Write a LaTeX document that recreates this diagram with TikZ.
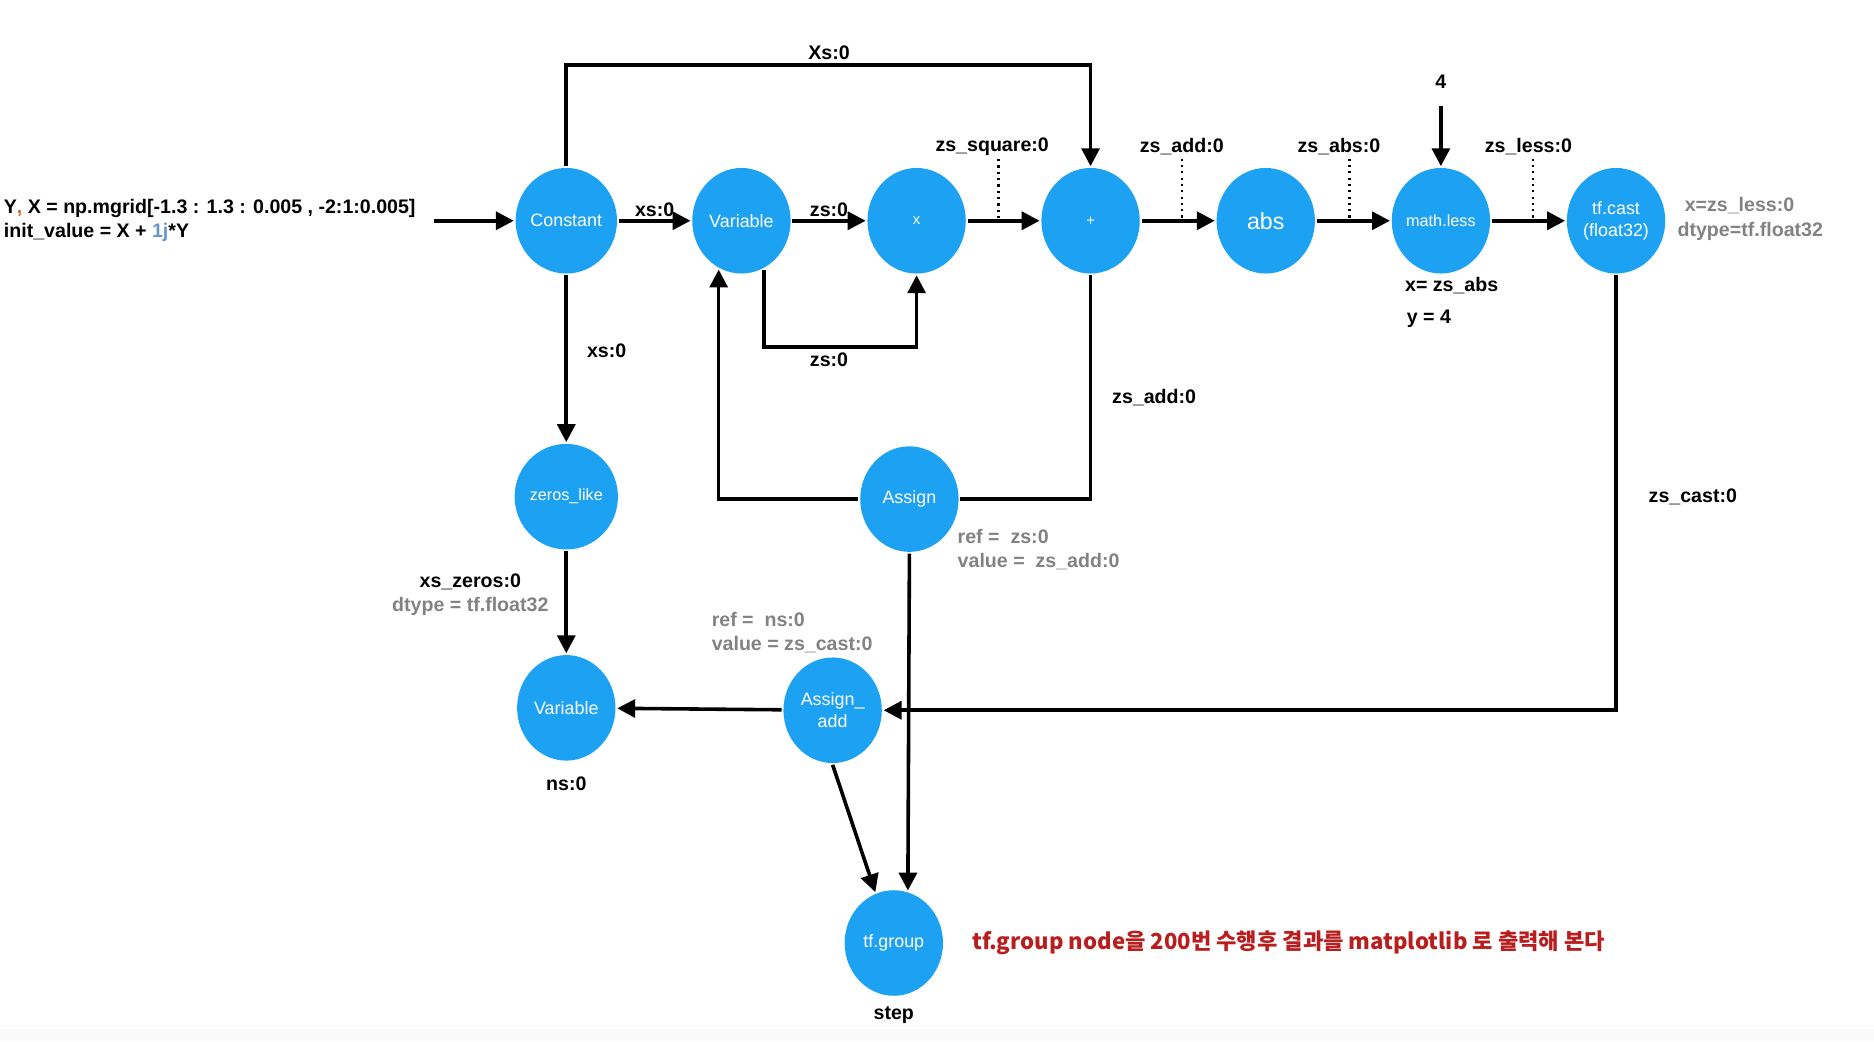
\documentclass[tikz,border=0pt]{standalone}
\usepackage{fontspec}
\setmainfont{Liberation Sans}
\newfontfamily\krfont{Noto Sans CJK KR}
\usetikzlibrary{arrows.meta,shapes.geometric}
\definecolor{tfblue}{RGB}{29,161,242}
\definecolor{notegray}{RGB}{130,130,130}
\definecolor{notered}{RGB}{184,30,30}
\definecolor{codeorange}{RGB}{204,110,50}
\definecolor{codeblue}{RGB}{105,150,200}

\begin{document}
\begin{tikzpicture}[x=0.02cm,y=-0.02cm,line width=1.7pt,>={Triangle[length=8.5pt,width=8.5pt]},
    op/.style={ellipse,fill=tfblue,text=white,minimum width=1.64cm,minimum height=1.76cm,inner sep=0pt,align=center,font=\fontsize{8.5}{10.5}\selectfont},
    lbl/.style={font=\bfseries\fontsize{9.3}{11.3}\selectfont,inner sep=1pt,align=left},
    note/.style={lbl,text=notegray},
    dot/.style={dotted,line width=1pt}]
    \useasboundingbox(0,0)rectangle(1562,868);
    \fill[black!2](0,858)rectangle(1562,868);

    % main row
    \node[op](const)at(472,184){Constant};
    \node[op](var1)at(618,184){Variable};
    \node[op,font=\fontsize{7}{8}\selectfont](mult)at(764,184){x};
    \node[op,font=\fontsize{7}{8}\selectfont](plus)at(909,184){+};
    \node[op,font=\fontsize{11}{13}\selectfont](abs)at(1055,184){abs};
    \node[op,font=\fontsize{7.7}{9}\selectfont](mless)at(1201,184){math.less};
    \node[op](cast)at(1347,184){tf.cast\\(float32)};

    % lower part
    \node[op,font=\fontsize{7.7}{9}\selectfont](zeros)at(472,414){zeros\_like};
    \node[op](assign)at(758,416){Assign};
    \node[op](var2)at(472,590){Variable};
    \node[op](asgadd)at(694,592){Assign\_\\add};
    \node[op](group)at(745,786){tf.group};

    \coordinate(inp)at(362,184);
    \coordinate(xsbend)at(690,54);
    \coordinate(zsbend)at(700,289);
    \coordinate(fourin)at(1201,88);

    \node[lbl,anchor=west](code)at(0,184){Y{\color{codeorange},} X = np.mgrid[-1.3 : 1.3 : 0.005 , -2:1:0.005]\\init\_value = X + {\color{codeblue}1j}*Y};

    \draw[->](inp)--(const);
    \draw[->](const)--(var1)node[lbl,midway,above](lxs){xs:0};
    \draw[->](var1)--(mult)node[lbl,midway,above](lzs){zs:0};
    \draw[->](mult)--(plus);
    \draw[->](plus)--(abs);
    \draw[->](abs)--(mless);
    \draw[->](mless)--(cast);

    \draw[->](const.north)|-(xsbend)-|(plus.north);
    \node[lbl](lXs)at(691,44){Xs:0};

    \node[lbl](lsq)at(827,122){zs\_square:0};
    \node[lbl](ladd)at(985,122){zs\_add:0};
    \node[lbl](labs)at(1116,122){zs\_abs:0};
    \node[lbl](lless)at(1274,122){zs\_less:0};
    \draw[dot]([xshift=3pt]lsq.south)--([xshift=3pt]lsq.south|-mult.east);
    \draw[dot](ladd.south)--(ladd.south|-plus.east);
    \draw[dot]([xshift=5pt]labs.south)--([xshift=5pt]labs.south|-abs.east);
    \draw[dot]([xshift=2pt]lless.south)--([xshift=2pt]lless.south|-mless.east);

    \node[lbl](four)at(1201,68){4};
    \draw[->](fourin)--(mless.north);
    \node[lbl](lx)at(1210,238){x= zs\_abs};
    \node[lbl](ly)at(1191,266){y = 4};
    \node[note,anchor=west](lcx)at(1401,171){x=zs\_less:0};
    \node[note,anchor=west](lcd)at(1395,193){dtype=tf.float32};

    \draw[->](const)--(zeros)node[lbl,pos=0.45,right=8pt](lxs2){xs:0};
    \draw[->](var1.-65)|-(zsbend)-|(mult.south);
    \node[lbl](lzs2)at(691,300){zs:0};

    \draw(plus.south)|-(assign.east);
    \node[lbl](ladd2)at(962,331){zs\_add:0};
    \draw[->](assign.west)-|(var1.-115);
    \node[note,anchor=west](aref)at(795,458){ref = \ zs:0\\value = \ zs\_add:0};

    \draw[->](cast.south)|-(asgadd.east);
    \node[lbl](lcast)at(1411,414){zs\_cast:0};

    \draw[->](zeros)--(var2);
    \node[lbl,align=center](lzero)at(392,496){xs\_zeros:0\\\textcolor{notegray}{dtype = tf.float32}};

    \draw[->](asgadd)--(var2);
    \node[note,anchor=west](addref)at(590,527){ref = \ ns:0\\value = zs\_cast:0};
    \node[lbl](lns)at(472,653){ns:0};

    \draw[->](assign.south)--(group.75);
    \draw[->](asgadd.south)--(group.110);
    \node[lbl](lstep)at(745,846){step};
    \node[anchor=west,text=notered,font=\krfont\bfseries\fontsize{10.5}{13}\selectfont](remark)at(803,786){tf.group node을 200번 수행후 결과를 matplotlib 로 출력해 본다};
\end{tikzpicture}
\end{document}
